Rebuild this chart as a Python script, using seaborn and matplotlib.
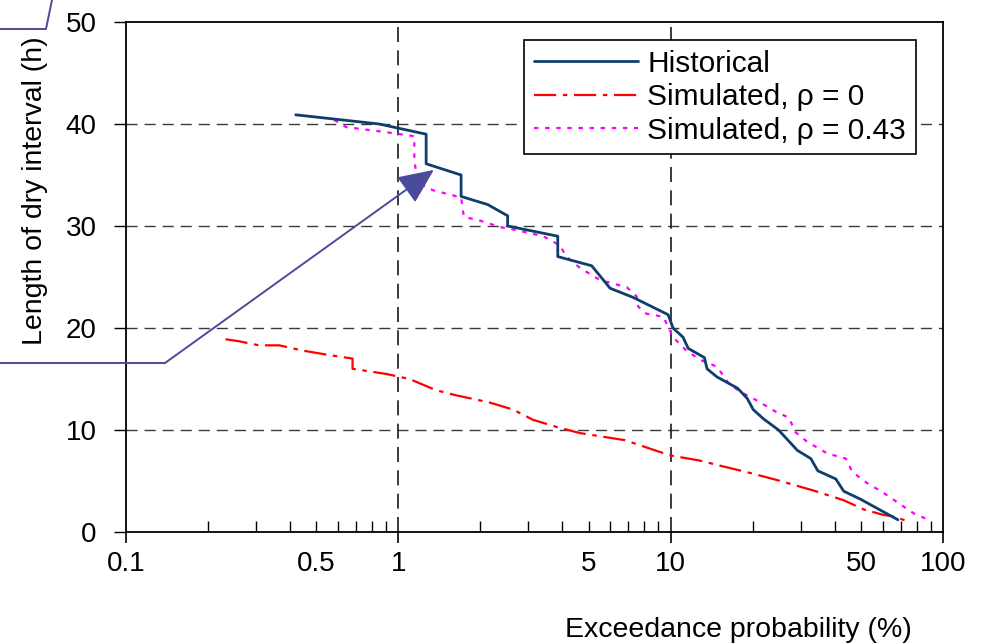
import numpy as np
import pandas as pd
import matplotlib
matplotlib.use("Agg")
import matplotlib.pyplot as plt
import seaborn as sns
from matplotlib.ticker import FixedLocator, FuncFormatter
from matplotlib.lines import Line2D

# ---- data ----
hist_x = [0.42, 0.85, 1.265, 1.265, 1.70, 1.70, 2.13, 2.52, 2.52, 3.85, 3.85, 5.13, 5.99, 7.28,
          9.79, 10.2, 11.1, 11.6, 13.3, 13.6, 14.8, 17.6, 19.1, 20.1, 21.9, 24.9, 29.2, 32.7,
          34.7, 40.4, 43.2, 49.9, 55.7, 68.3]
hist_y = [40.9, 40.0, 39.0, 36.1, 35.0, 32.9, 32.1, 31.0, 30.0, 29.0, 27.0, 26.1, 23.9, 23.0,
          21.3, 20.0, 19.1, 18.0, 17.1, 16.0, 15.2, 14.1, 13.1, 12.0, 11.1, 10.0, 8.0, 7.2,
          6.0, 5.2, 4.0, 3.2, 2.5, 1.2]

sim0_x = [0.232, 0.26, 0.308, 0.365, 0.443, 0.542, 0.679, 0.679, 0.901, 1.098, 1.377, 1.63,
          2.16, 2.64, 3.12, 3.81, 4.64, 6.8, 8.77, 10.0, 12.8, 15.2, 20.2, 25.3, 33.6, 43.3,
          51.3, 60.0, 66.2, 75.2]
sim0_y = [18.9, 18.7, 18.3, 18.3, 17.8, 17.4, 17.0, 16.0, 15.5, 15.0, 13.9, 13.4, 12.7, 12.0,
          11.0, 10.3, 9.7, 9.0, 8.0, 7.5, 7.0, 6.5, 5.7, 5.0, 4.05, 3.1, 2.2, 1.7, 1.5, 1.0]

sim43_x = [0.581, 0.642, 0.90, 1.145, 1.145, 1.18, 1.34, 1.70, 1.74, 2.01, 2.36, 2.71, 3.40,
           3.92, 4.14, 4.64, 5.5, 6.9, 7.5, 7.6, 8.15, 9.4, 10.2, 11.4, 12.8, 14.8, 16.3, 18.0,
           20.7, 24.3, 27.2, 28.7, 31.7, 37.6, 44.0, 46.4, 52.6, 60.0, 70.7, 78.4, 90.2]
sim43_y = [40.4, 39.7, 39.2, 38.8, 36.4, 34.2, 33.5, 32.8, 30.9, 30.5, 29.9, 29.6, 29.0,
           28.1, 27.0, 25.9, 24.7, 24.0, 23.1, 22.1, 21.4, 21.1, 19.1, 17.8, 16.9, 16.2, 14.6,
           13.75, 12.9, 11.8, 11.2, 9.8, 8.85, 7.7, 7.2, 5.9, 4.8, 3.9, 2.6, 1.8, 1.1]

labels = ["Historical", "Simulated, \u03c1 = 0", "Simulated, \u03c1 = 0.43"]
x_major = [0.1, 1, 10, 100]
x_labelled = [0.1, 0.5, 1, 5, 10, 50, 100]
y_ticks = [0, 10, 20, 30, 40, 50]

# ---- styling ----
sns.set_theme(style="white")
plt.rcParams['font.family'] = ['Liberation Sans', 'DejaVu Sans']
plt.rcParams['text.color'] = 'black'
FS = 20
LFS = 21.5

W, H = 991, 644
fig = plt.figure(figsize=(W / 100, H / 100), dpi=100)
ax = fig.add_axes([126 / W, 1 - 532 / H, (943 - 126) / W, (532 - 22) / H])

df_h = pd.DataFrame({"x": hist_x, "y": hist_y})
df_0 = pd.DataFrame({"x": sim0_x, "y": sim0_y})
df_43 = pd.DataFrame({"x": sim43_x, "y": sim43_y})

sns.lineplot(data=df_h, x="x", y="y", ax=ax, sort=False, estimator=None,
             color="#0e3e6e", lw=2.0, label=labels[0], zorder=4)
sns.lineplot(data=df_0, x="x", y="y", ax=ax, sort=False, estimator=None,
             color="#ff0000", lw=1.6, label=labels[1], zorder=3)
sns.lineplot(data=df_43, x="x", y="y", ax=ax, sort=False, estimator=None,
             color="#ff00ff", lw=1.6, label=labels[2], zorder=3)
ax.lines[1].set_dashes([10, 3, 2, 3])
ax.lines[2].set_dashes([2, 3])

ax.set_xscale("log")
ax.set_xlim(0.1, 100)
ax.set_ylim(0, 50)

# grid lines
for yv in [10, 20, 30, 40]:
    ax.axhline(yv, color="#3a3a3a", lw=1.0, dashes=(8, 5), zorder=1)
for xv in [1, 10]:
    ax.axvline(xv, color="#1a1a1a", lw=1.2, dashes=(9, 5), zorder=1)

ax.xaxis.set_major_locator(FixedLocator(x_major))
minors = [m * d for d in [0.1, 1, 10] for m in range(2, 10)]
ax.xaxis.set_minor_locator(FixedLocator(minors))
fmt = lambda v, p: ("%g" % v) if any(abs(v - t) < 1e-9 for t in x_labelled) else ""
ax.xaxis.set_major_formatter(FuncFormatter(fmt))
ax.xaxis.set_minor_formatter(FuncFormatter(fmt))
ax.set_yticks(y_ticks)

ax.tick_params(axis="x", which="major", direction="out", length=8, width=1.2,
               color="black", labelsize=FS, pad=5.7, bottom=True, labelcolor="black")
ax.tick_params(axis="x", which="minor", direction="in", length=8, width=1.0,
               color="black", labelsize=FS, pad=13.7, bottom=True, labelcolor="black")
ax.tick_params(axis="y", which="major", direction="out", length=9, width=1.0,
               color="black", labelsize=FS, pad=12, left=True, labelcolor="black")

for s in ax.spines.values():
    s.set_color("black")
    s.set_linewidth(1.3)

ax.set_xlabel("")
ax.set_ylabel("")
fig.text(912 / W, 1 - 630 / H, "Exceedance probability (%)", ha="right", va="center",
         fontsize=20.5, color="black")
fig.text(35 / W, 1 - 191 / H, "Length of dry interval (h)", ha="center", va="center",
         rotation=90, fontsize=20.5, color="black")

leg = ax.legend(loc="upper right", bbox_to_anchor=(916 / W, 1 - 40 / H),
                bbox_transform=fig.transFigure, fontsize=LFS, frameon=True,
                fancybox=False, shadow=False, handlelength=3.5, handletextpad=0.3,
                labelspacing=0.18, borderpad=0.33, borderaxespad=0.0)
leg.get_frame().set_edgecolor("black")
leg.get_frame().set_linewidth(1.2)
leg.get_frame().set_alpha(1)
for t in leg.get_texts():
    t.set_color("black")

# callout lines and arrow
cc = "#4b4b9b"
fig.add_artist(Line2D([0, 165 / W], [1 - 363 / H, 1 - 363 / H], transform=fig.transFigure,
                      color=cc, lw=1.4))
fig.add_artist(Line2D([0, 46 / W, 52 / W], [1 - 29 / H, 1 - 29 / H, 1.0],
                      transform=fig.transFigure, color=cc, lw=1.4))
ax.annotate("", xy=(1.35, 35.5), xycoords="data",
            xytext=(165 / W, 1 - 363 / H), textcoords="figure fraction",
            arrowprops=dict(arrowstyle="-|>,head_length=1.0,head_width=0.45",
                            mutation_scale=22, color=cc, lw=1.4, shrinkA=0, shrinkB=0),
            annotation_clip=False, zorder=6)

fig.savefig("out.png", dpi=100)
